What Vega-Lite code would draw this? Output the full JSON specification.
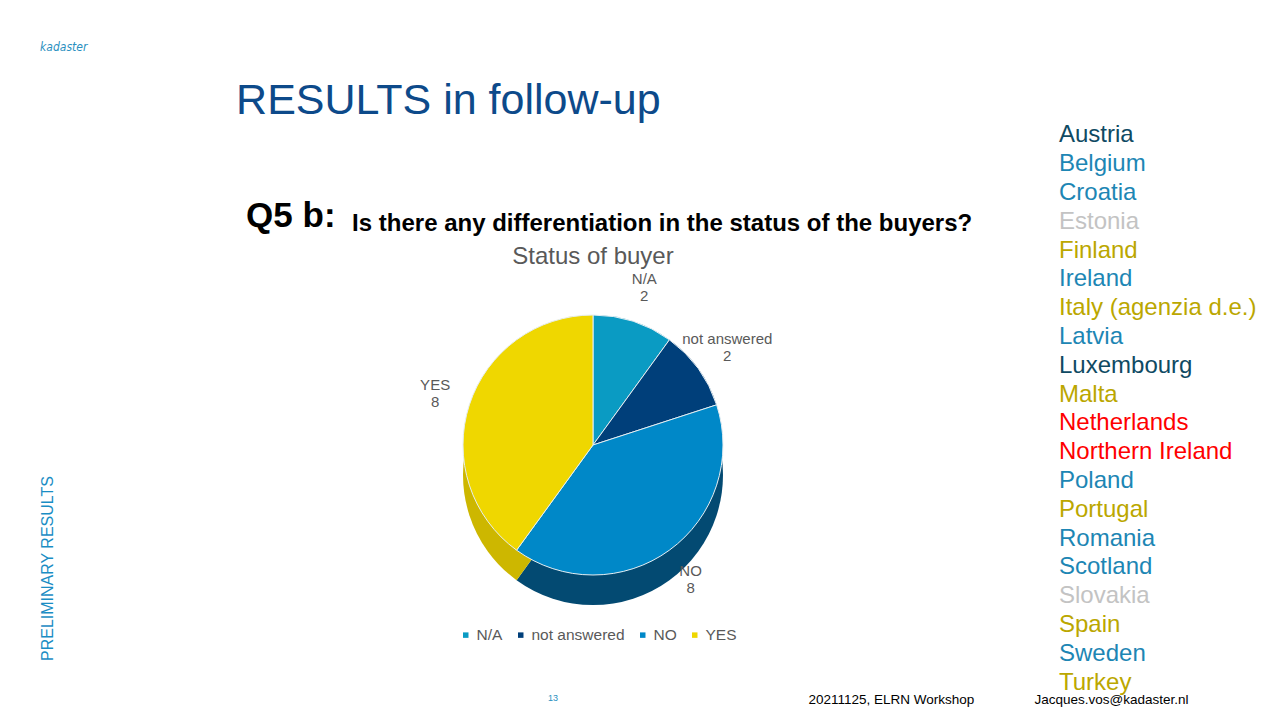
{
  "$schema": "https://vega.github.io/schema/vega-lite/v6.json",
  "background": "white",
  "padding": {"left": 40, "top": 41, "right": 5, "bottom": 5},
  "config": {"view": {"stroke": null}, "font": "Liberation Sans"},
  "datasets": {
    "slices": [
      {"answer": "N/A", "count": 2, "seq": 1},
      {"answer": "not answered", "count": 2, "seq": 2},
      {"answer": "NO", "count": 8, "seq": 3},
      {"answer": "YES", "count": 8, "seq": 4}
    ],
    "countries": [
      {"country": "Austria", "group": "not answered"},
      {"country": "Belgium", "group": "NO"},
      {"country": "Croatia", "group": "NO"},
      {"country": "Estonia", "group": "N/A"},
      {"country": "Finland", "group": "YES"},
      {"country": "Ireland", "group": "NO"},
      {"country": "Italy (agenzia d.e.)", "group": "YES"},
      {"country": "Latvia", "group": "NO"},
      {"country": "Luxembourg", "group": "not answered"},
      {"country": "Malta", "group": "YES"},
      {"country": "Netherlands", "group": "YES (highlighted)"},
      {"country": "Northern Ireland", "group": "YES (highlighted)"},
      {"country": "Poland", "group": "NO"},
      {"country": "Portugal", "group": "YES"},
      {"country": "Romania", "group": "NO"},
      {"country": "Scotland", "group": "NO"},
      {"country": "Slovakia", "group": "N/A"},
      {"country": "Spain", "group": "YES"},
      {"country": "Sweden", "group": "NO"},
      {"country": "Turkey", "group": "YES"}
    ]
  },
  "title": {
    "text": "20211125, ELRN Workshop\u00a0\u00a0\u00a0\u00a0\u00a0\u00a0\u00a0\u00a0\u00a0\u00a0\u00a0\u00a0\u00a0\u00a0\u00a0\u00a0Jacques.vos@kadaster.nl",
    "orient": "bottom", "anchor": "end", "dx": -68, "offset": -10,
    "fontSize": 13.5, "fontWeight": "normal", "color": "#000000", "font": "Liberation Sans"
  },
  "vconcat": [
    {
      "title": {"text": "13", "orient": "bottom", "anchor": "start", "dx": 508, "offset": -3, "fontSize": 9, "fontWeight": "normal", "color": "#2a8fc0"},
      "vconcat": [
        {
          "title": {"text": "kadaster", "anchor": "start", "fontSize": 12, "fontStyle": "italic", "fontWeight": "normal", "color": "#2a8fc0", "offset": 26, "font": "DejaVu Sans Condensed"},
          "vconcat": [
            {
              "title": {"text": "PRELIMINARY RESULTS", "orient": "left", "anchor": "start", "offset": 180, "dx": 36, "fontSize": 16, "fontWeight": "normal", "color": "#1a8dc4", "font": "Liberation Sans"},
              "resolve": {"scale": {"color": "independent"}, "legend": {"color": "independent"}},
              "spacing": 85,
              "hconcat": [
                {
                  "title": {"text": "RESULTS in follow-up", "anchor": "start", "dx": -10, "fontSize": 43, "fontWeight": "normal", "color": "#0d4a8a", "font": "Liberation Sans", "offset": -2},
                  "spacing": 0,
                  "vconcat": [
                    {
                      "width": 270,
                      "height": 77,
                      "data": {"values": []},
                      "mark": {"type": "point", "opacity": 0}
                    },
                    {
                      "title": {"text": "Q5 b:", "anchor": "start", "dx": -106, "offset": -22, "fontSize": 35, "fontWeight": "bold", "color": "#000000", "font": "Liberation Sans"},
                      "vconcat": [
                        {
                          "title": {"text": "Is there any differentiation in the status of the buyers?", "anchor": "start", "dx": -68, "offset": 9, "fontSize": 24, "fontWeight": "bold", "color": "#000000", "font": "Liberation Sans"},
                          "vconcat": [
                            {
                              "width": 270,
                              "height": 300,
                              "data": {"name": "slices"},
                              "title": {"text": "Status of buyer", "anchor": "middle", "offset": 3, "fontSize": 24, "fontWeight": "normal", "color": "#595959", "font": "Liberation Sans"},
                              "encoding": {
                                "theta": {"field": "count", "type": "quantitative", "stack": true},
                                "order": {"field": "seq", "type": "quantitative"}
                              },
                              "layer": [
                                {
                                  "mark": {"type": "arc", "outerRadius": 130, "yOffset": 30},
                                  "encoding": {
                                    "fill": {"field": "answer", "type": "nominal", "legend": null,
                                      "scale": {"domain": ["N/A", "not answered", "NO", "YES"], "range": ["#07698a", "#002a55", "#034a72", "#cdb700"]}}
                                  }
                                },
                                {
                                  "mark": {"type": "arc", "outerRadius": 130, "stroke": "#e6eef2", "strokeWidth": 1},
                                  "encoding": {
                                    "color": {"field": "answer", "type": "nominal",
                                      "scale": {"domain": ["N/A", "not answered", "NO", "YES"], "range": ["#0a9bc3", "#003f7a", "#0088c8", "#efd700"]},
                                      "legend": {"orient": "bottom", "direction": "horizontal", "title": null, "symbolType": "square", "symbolSize": 30, "symbolStrokeWidth": 0, "labelOffset": 3, "labelFontSize": 15.5, "labelColor": "#595959", "labelFont": "Liberation Sans", "columnPadding": 10, "offset": 22}
                                    }
                                  }
                                },
                                {
                                  "mark": {"type": "text", "radius": 166, "dy": -8.5, "fontSize": 15, "color": "#595959", "font": "Liberation Sans"},
                                  "encoding": {"text": {"field": "answer"}}
                                },
                                {
                                  "mark": {"type": "text", "radius": 166, "dy": 8.5, "fontSize": 15, "color": "#595959", "font": "Liberation Sans"},
                                  "encoding": {"text": {"field": "count"}}
                                }
                              ]
                            }
                          ]
                        }
                      ]
                    }
                  ]
                },
                {
                  "width": 2,
                  "height": 576,
                  "data": {"name": "countries"},
                  "mark": {"type": "text", "align": "left", "baseline": "middle", "fontSize": 24, "font": "Liberation Sans"},
                  "encoding": {
                    "y": {"field": "country", "type": "ordinal", "sort": null, "axis": null, "scale": {"type": "point", "padding": 0.5}},
                    "text": {"field": "country"},
                    "color": {"field": "group", "type": "nominal", "legend": null,
                      "scale": {"domain": ["not answered", "NO", "N/A", "YES", "YES (highlighted)"], "range": ["#0f4a63", "#1d86b4", "#c3c3c3", "#bba700", "#ff0000"]}}
                  }
                }
              ]
            }
          ]
        }
      ]
    }
  ]
}
